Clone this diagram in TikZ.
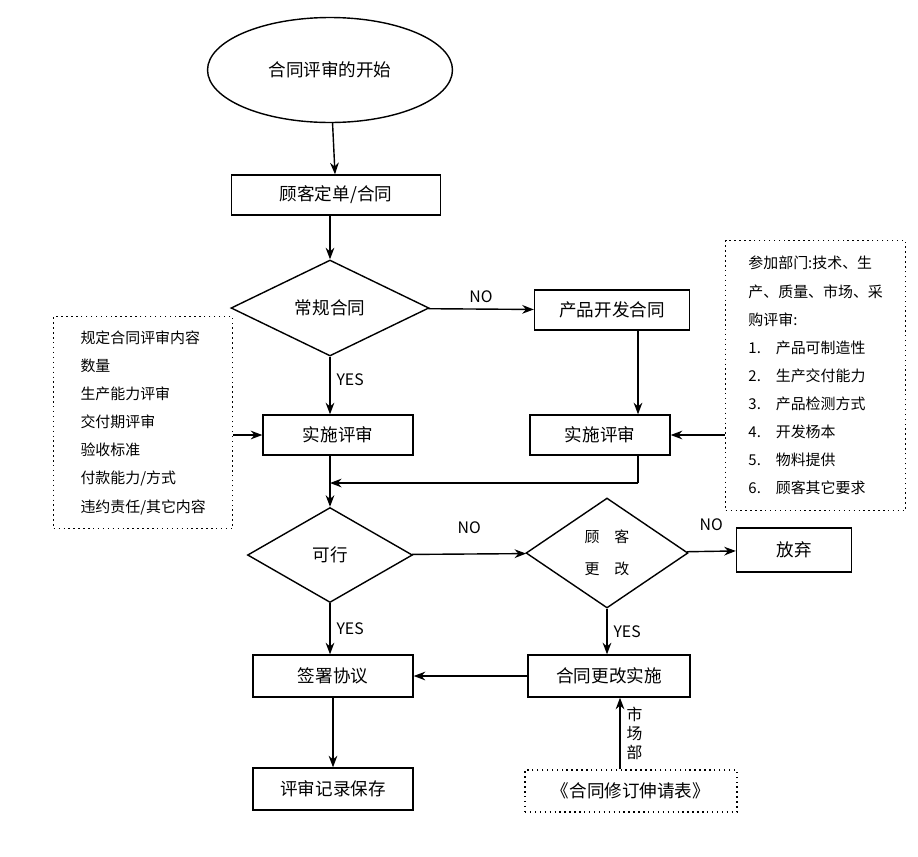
\documentclass[tikz,border=0pt]{standalone}
\usepackage{fontspec}
\setmainfont{Noto Sans CJK SC}
\usetikzlibrary{shapes.geometric,arrows.meta}
\begin{document}
\begin{tikzpicture}[x=0.02cm,y=-0.02cm,thick,>=Stealth,
    box/.style={draw,minimum height=0.8cm,font=\fontsize{10}{12}\selectfont},
    choice/.style={draw,diamond,aspect=2,inner sep=0pt,font=\fontsize{10}{12}\selectfont},
    note/.style={draw,dotted,align=left,font=\fontsize{8.5}{16}\selectfont,anchor=north west},
    lbl/.style={font=\fontsize{9}{11}\selectfont}]
    \useasboundingbox (0,0) rectangle (918,856);
    \node[draw,ellipse,minimum width=4.9cm,minimum height=2.1cm,font=\fontsize{10}{12}\selectfont] (start) at (330,70) {合同评审的开始};
    \node[box,minimum width=4.18cm] (order) at (336,195) {顾客定单/合同};
    \node[choice,minimum width=3.96cm,minimum height=1.92cm] (normal) at (330,308) {常规合同};
    \node[box,minimum width=3.1cm] (develop) at (612,310) {产品开发合同};
    \node[box,minimum width=3cm] (reviewL) at (338,435) {实施评审};
    \node[box,minimum width=2.8cm] (reviewR) at (600,435) {实施评审};
    \node[note,minimum width=3.58cm,minimum height=4.24cm] (itemsL) at (53,316) {规定合同评审内容\\数量\\生产能力评审\\交付期评审\\验收标准\\付款能力/方式\\违约责任/其它内容};
    \node[note,minimum width=3.6cm,minimum height=5.4cm] (itemsR) at (725,240) {参加部门:技术、生\\产、质量、市场、采\\购评审:\\1.\quad 产品可制造性\\2.\quad 生产交付能力\\3.\quad 产品检测方式\\4.\quad 开发杨本\\5.\quad 物料提供\\6.\quad 顾客其它要求};
    \node[choice,minimum width=3.3cm,minimum height=1.9cm] (ok) at (330,555) {可行};
    \node[choice,minimum width=3.24cm,minimum height=2.2cm,align=center,font=\fontsize{8.5}{18}\selectfont] (change) at (607,553) {顾\quad 客\\更\quad 改};
    \node[box,minimum width=2.3cm,minimum height=0.88cm] (drop) at (794,550) {放弃};
    \node[box,minimum width=3.2cm,minimum height=0.84cm] (sign) at (333,676) {签署协议};
    \node[box,minimum width=3.24cm,minimum height=0.84cm] (apply) at (609,676) {合同更改实施};
    \node[box,minimum width=3.2cm,minimum height=0.84cm] (keep) at (333,789) {评审记录保存};
    \node[box,dotted,minimum width=4.24cm,minimum height=0.84cm] (form) at (631,791) {《合同修订伸请表》};
    \coordinate (join) at (638,483);
    \coordinate (merge) at (330,483);
    \draw[->] (start) -- (order);
    \draw[->] (order.south -| normal) -- (normal);
    \draw[->] (normal) -- node[lbl,above] {NO} (develop);
    \draw[->] (normal) -- node[lbl,right,pos=0.4] {YES} (normal.south |- reviewL.north);
    \draw[->] (develop.south -| join) -- (reviewR.north -| join);
    \draw[->] (itemsL.east |- reviewL) -- (reviewL);
    \draw[->] (itemsR.west |- reviewR) -- (reviewR);
    \draw (reviewR.south -| join) -- (join);
    \draw[->] (join) -- (merge);
    \draw[->] (reviewL.south -| ok) -- (ok);
    \draw[->] (ok) -- node[lbl,above=8pt] {NO} (change);
    \draw[->] (change) -- node[lbl,above=8pt] {NO} (drop);
    \draw[->] (ok) -- node[lbl,right,pos=0.5] {YES} (ok.south |- sign.north);
    \draw[->] (change) -- node[lbl,right,pos=0.5] {YES} (change.south |- apply.north);
    \draw[->] (apply) -- (sign);
    \draw[->] (sign) -- (keep);
    \draw[->] (form.north -| 620,0) -- node[lbl,right,align=center,font=\fontsize{9}{11}\selectfont] {市\\场\\部} (apply.south -| 620,0);
\end{tikzpicture}
\end{document}
